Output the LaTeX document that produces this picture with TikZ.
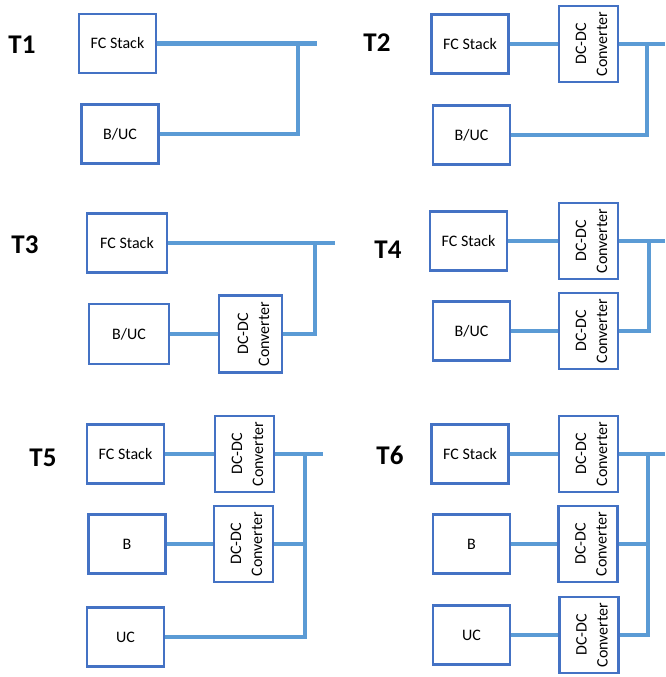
\documentclass[tikz,border=0pt]{standalone}
\usepackage{fontspec}
\setmainfont{Carlito}
\definecolor{boxblue}{HTML}{4472C4}
\definecolor{lineblue}{HTML}{5B9BD5}
\tikzset{
  src/.style={draw=boxblue, line width=2.2pt, minimum width=77pt, minimum height=59pt,
    inner sep=0pt, font=\fontsize{16}{19}\selectfont},
  conv/.style={draw=boxblue, line width=2.2pt, minimum width=59pt, minimum height=76pt,
    inner sep=0pt,
    label={[rotate=90, align=center, inner sep=0pt, yshift=-3pt,
      font=\fontsize{16}{21}\selectfont]center:DC-DC\\Converter}},
  bus/.style={draw=lineblue, line width=4.6pt},
  tap/.style={draw=lineblue, line width=3.2pt},
  tag/.style={font=\bfseries\fontsize{27}{30}\selectfont}
}
\begin{document}
\begin{tikzpicture}[x=1pt, y=-1pt]
\useasboundingbox (0,0) rectangle (665,677);

% ---- T1: direct connection of both sources
\node[tag] (t1) at (22,45) {T1};
\node[src] (fc1) at (117.5,43.5) {FC Stack};
\node[src] (buc1) at (120,134) {B/UC};
\coordinate (o1) at (317,43.5);
\coordinate (j1) at (298,43.5);
\coordinate (k1) at (269,134);
\draw[bus] (fc1.east) -- (o1);
\draw[bus] (buc1.east) -- (k1);
\draw[tap] (k1) -| (j1);

% ---- T2: converter on the fuel cell only
\node[tag] (t2) at (377,43) {T2};
\node[src] (fc2) at (470,44) {FC Stack};
\node[conv] (dc2) at (588.5,44) {};
\node[src] (buc2) at (471.5,135) {B/UC};
\coordinate (o2) at (665,44);
\coordinate (j2) at (647,44);
\coordinate (k2) at (618,135);
\draw[bus] (fc2.east) -- (dc2.west);
\draw[bus] (dc2.east) -- (o2);
\draw[bus] (buc2.east) -- (k2);
\draw[tap] (k2) -| (j2);

% ---- T3: converter on the storage only
\node[tag] (t3) at (25,245) {T3};
\node[src, minimum width=80pt] (fc3) at (127,243) {FC Stack};
\node[src, minimum width=80pt, minimum height=60pt] (buc3) at (129,334) {B/UC};
\node[conv, minimum width=63pt, minimum height=77pt] (dc3) at (250.5,334) {};
\coordinate (o3) at (335,243);
\coordinate (j3) at (315,243);
\draw[bus] (fc3.east) -- (o3);
\draw[bus] (buc3.east) -- (dc3.west);
\draw[tap] (dc3.east) -| (j3);

% ---- T4: converters on both sources
\node[tag] (t4) at (388,250) {T4};
\node[src] (fc4) at (468.5,241) {FC Stack};
\node[conv] (dc4a) at (588.5,241) {};
\node[src] (buc4) at (471.5,331) {B/UC};
\node[conv] (dc4b) at (588.5,331) {};
\coordinate (o4) at (665,241);
\coordinate (j4) at (649,241);
\draw[bus] (fc4.east) -- (dc4a.west);
\draw[bus] (dc4a.east) -- (o4);
\draw[bus] (buc4.east) -- (dc4b.west);
\draw[tap] (dc4b.east) -| (j4);

% ---- T5: battery with converter, ultracapacitor direct
\node[tag] (t5) at (43,458) {T5};
\node[src] (fc5) at (125.5,454) {FC Stack};
\node[conv] (dc5a) at (244.5,454) {};
\node[src] (b5) at (127,544) {B};
\node[conv] (dc5b) at (243.5,544) {};
\node[src] (uc5) at (125.5,637) {UC};
\coordinate (o5) at (323,454);
\coordinate (j5) at (305,454);
\draw[bus] (fc5.east) -- (dc5a.west);
\draw[bus] (dc5a.east) -- (o5);
\draw[bus] (b5.east) -- (dc5b.west);
\draw[tap] (uc5.east) -| (j5);
\draw[tap] (dc5b.east) -- (dc5b.east -| j5);

% ---- T6: converters on all three sources
\node[tag] (t6) at (390,455) {T6};
\node[src] (fc6) at (470,454) {FC Stack};
\node[conv] (dc6a) at (588.5,454) {};
\node[src] (b6) at (471.5,544) {B};
\node[conv] (dc6b) at (588,544) {};
\node[src] (uc6) at (471.5,635) {UC};
\node[conv] (dc6c) at (589,635) {};
\coordinate (o6) at (665,454);
\coordinate (j6) at (648,454);
\draw[bus] (fc6.east) -- (dc6a.west);
\draw[bus] (dc6a.east) -- (o6);
\draw[bus] (b6.east) -- (dc6b.west);
\draw[bus] (uc6.east) -- (dc6c.west);
\draw[tap] (dc6c.east) -| (j6);
\draw[tap] (dc6b.east) -- (dc6b.east -| j6);
\end{tikzpicture}
\end{document}
